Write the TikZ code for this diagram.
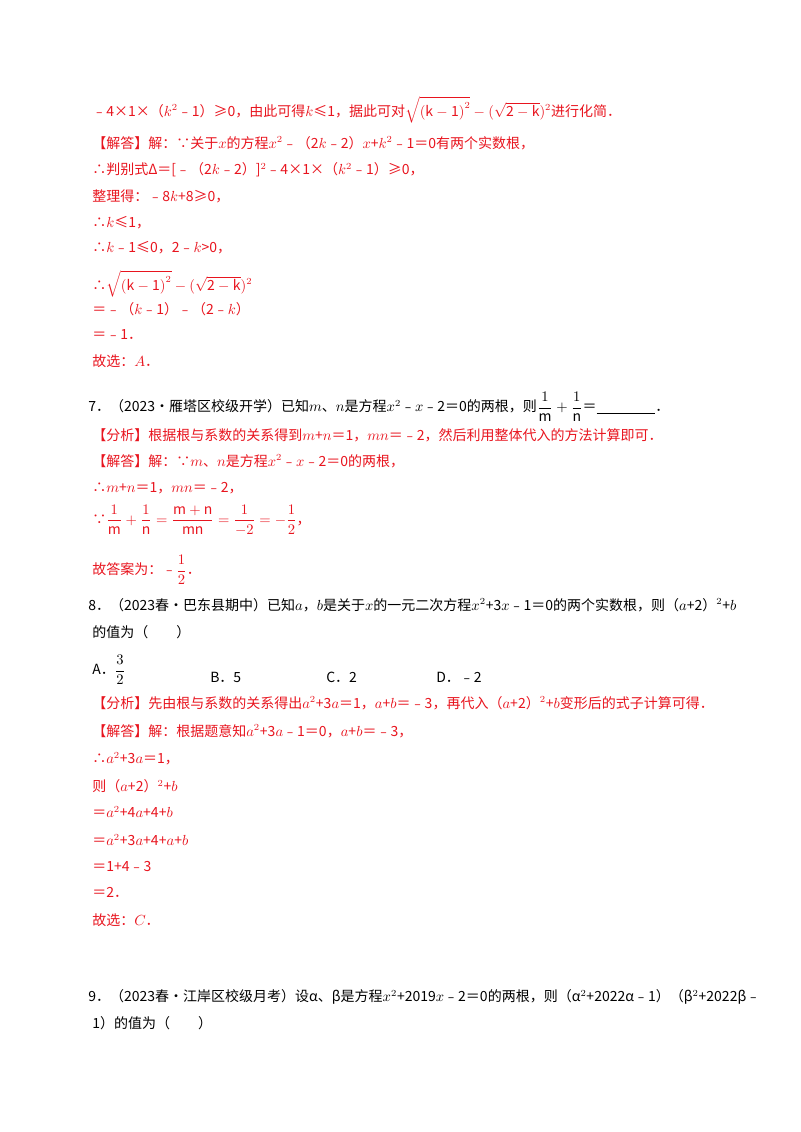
\documentclass[tikz,border=0pt]{standalone}
\usepackage{fontspec}
\setmainfont{Noto Sans CJK SC}
\usepackage{amsmath}
\usetikzlibrary{positioning}
\definecolor{ansred}{RGB}{232,20,30}
\newcommand{\rt}[1]{\mathrm{#1}}
\begin{document}
\begin{tikzpicture}[x=0.75pt, y=-0.75pt,
  line/.style={anchor=west, inner sep=0pt, font=\fontsize{10.5}{12}\selectfont},
  ans/.style={line, text=ansred}]
\useasboundingbox (0,0) rectangle (800,1132);
% previous solution
\node[ans] (p1) at (92,110) {﹣4×1×（$k^2$﹣1）≥0，由此可得$k$≤1，据此可对$\sqrt{\rt{(k-1)}^2}-(\sqrt{\rt{2-k}})^2$进行化简．};
\node[ans] (p2) at (92,143) {【解答】解：∵关于$x$的方程$x^2$﹣（2$k$﹣2）$x$+$k^2$﹣1＝0有两个实数根，};
\node[ans] (p3) at (92,170) {∴判别式Δ＝[﹣（2$k$﹣2）]$^2$﹣4×1×（$k^2$﹣1）≥0，};
\node[ans] (p4) at (92,196) {整理得：﹣8$k$+8≥0，};
\node[ans] (p5) at (92,223) {∴$k$≤1，};
\node[ans] (p6) at (92,248) {∴$k$﹣1≤0，2﹣$k$>0，};
\node[ans] (p7) at (92,284) {∴$\sqrt{\rt{(k-1)}^2}-(\sqrt{\rt{2-k}})^2$};
\node[ans] (p8) at (92,309) {＝﹣（$k$﹣1）﹣（2﹣$k$）};
\node[ans] (p9) at (92,335) {＝﹣1．};
\node[ans] (p10) at (92,361) {故选：$A$．};
% question 7
\node[line] (q7) at (88,407) {7．（2023•雁塔区校级开学）已知$m$、$n$是方程$x^2$﹣$x$﹣2＝0的两根，则$\dfrac{1}{\rt{m}}+\dfrac{1}{\rt{n}}$＝\underline{\hspace{4.2em}}．};
\node[ans] (a1) at (92,435) {【分析】根据根与系数的关系得到$m$+$n$＝1，$mn$＝﹣2，然后利用整体代入的方法计算即可．};
\node[ans] (a2) at (92,461) {【解答】解：∵$m$、$n$是方程$x^2$﹣$x$﹣2＝0的两根，};
\node[ans] (a3) at (92,488) {∴$m$+$n$＝1，$mn$＝﹣2，};
\node[ans] (a4) at (92,520) {∵$\dfrac{1}{\rt{m}}+\dfrac{1}{\rt{n}}=\dfrac{\rt{m+n}}{\rt{mn}}=\dfrac{1}{-2}=-\dfrac{1}{2}$，};
\node[ans] (a5) at (92,570) {故答案为：﹣$\dfrac{1}{2}$．};
% question 8
\node[line] (q8) at (88,605) {8．（2023春•巴东县期中）已知$a$，$b$是关于$x$的一元二次方程$x^2$+3$x$﹣1＝0的两个实数根，则（$a$+2）$^2$+$b$};
\node[line] (q8b) at (92,632) {的值为（　　）};
\node[line] (oA) at (92,670) {A．$\dfrac{3}{2}$};
\node[line] (oB) at (210,677) {B．5};
\node[line] (oC) at (326,677) {C．2};
\node[line] (oD) at (436,677) {D．﹣2};
\node[ans] (b1) at (92,703) {【分析】先由根与系数的关系得出$a^2$+3$a$＝1，$a$+$b$＝﹣3，再代入（$a$+2）$^2$+$b$变形后的式子计算可得．};
\node[ans] (b2) at (92,731) {【解答】解：根据题意知$a^2$+3$a$﹣1＝0，$a$+$b$＝﹣3，};
\node[ans] (b3) at (92,759) {∴$a^2$+3$a$＝1，};
\node[ans] (b4) at (92,786) {则（$a$+2）$^2$+$b$};
\node[ans] (b5) at (92,812) {＝$a^2$+4$a$+4+$b$};
\node[ans] (b6) at (92,840) {＝$a^2$+3$a$+4+$a$+$b$};
\node[ans] (b7) at (92,866) {＝1+4﹣3};
\node[ans] (b8) at (92,892) {＝2．};
\node[ans] (b9) at (92,920) {故选：$C$．};
% question 9
\node[line] (q9) at (88,997) {9．（2023春•江岸区校级月考）设α、β是方程$x^2$+2019$x$﹣2＝0的两根，则（α$^2$+2022α﹣1）（β$^2$+2022β﹣};
\node[line] (q9b) at (92,1023) {1）的值为（　　）};
\end{tikzpicture}
\end{document}
